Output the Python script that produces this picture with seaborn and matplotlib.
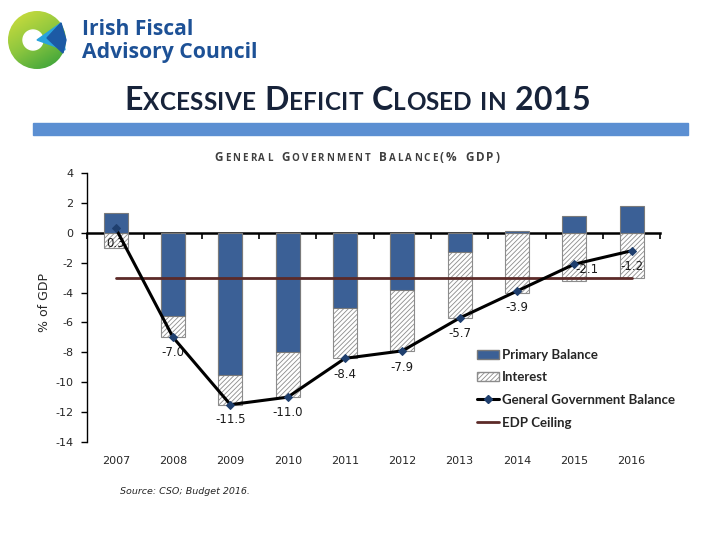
import numpy as np
import pandas as pd
import matplotlib
matplotlib.use("Agg")
import matplotlib.pyplot as plt
import seaborn as sns
from matplotlib.patches import Patch, Circle, Polygon, Rectangle
from matplotlib.lines import Line2D

# values (% of GDP)
years = ["2007", "2008", "2009", "2010", "2011", "2012", "2013", "2014", "2015", "2016"]
primary_balance = [1.3, -5.6, -9.5, -8.0, -5.0, -3.8, -1.3, 0.1, 1.1, 1.8]
interest = [-1.0, -1.4, -2.0, -3.0, -3.4, -4.1, -4.4, -4.0, -3.2, -3.0]
gg_balance = [0.3, -7.0, -11.5, -11.0, -8.4, -7.9, -5.7, -3.9, -2.1, -1.2]
edp_ceiling = [-3.0] * 10
y_ticks = [4, 2, 0, -2, -4, -6, -8, -10, -12, -14]

sns.set_theme(style="white")
plt.rcParams["font.family"] = ["DejaVu Sans"]
plt.rcParams["axes.unicode_minus"] = False
plt.rcParams["hatch.linewidth"] = 0.6

df = pd.DataFrame({"year": years, "pb": primary_balance, "int": interest, "ggb": gg_balance})
# interest is stacked under the primary balance when that one is negative
df["int_low"] = df["int"] + df["pb"].clip(upper=0)

fig = plt.figure(figsize=(7.2, 5.4), dpi=100)

# ---- decoration layer in pixel coordinates (logo, title, band)
deco = fig.add_axes([0, 0, 1, 1], zorder=-1)
deco.set_xlim(0, 720)
deco.set_ylim(540, 0)
deco.axis("off")

# logo: green ring with a blue wedge
ring = Circle((37, 40), 29, transform=deco.transData)
grad = np.add.outer(np.linspace(0, 1, 60), np.linspace(0, 0.6, 60))
green = matplotlib.colors.LinearSegmentedColormap.from_list("g", ["#d3df3c", "#8cc63f", "#2f9e3a"])
im = deco.imshow(grad, extent=(8, 66, 69, 11), cmap=green, aspect="auto", zorder=1)
im.set_clip_path(ring)
deco.add_patch(Circle((33, 40), 10, color="white", zorder=2))
deco.add_patch(Polygon([(37, 40), (61, 23), (65, 50)], closed=True, color="#29a3dd", zorder=3))
deco.add_patch(Polygon([(47, 38), (61, 23), (66, 40), (63, 53)], closed=True, color="#1c5aa5", zorder=3))
deco.text(82, 35, "Irish Fiscal", fontsize=15.2, fontweight="bold", color="#1d5196",
          family="Open Sans", va="baseline")
deco.text(82, 58, "Advisory Council", fontsize=15.2, fontweight="bold", color="#1d5196",
          family="Open Sans", va="baseline")

# blue band under the title
deco.add_patch(Rectangle((33, 123), 655, 12, color="#5b8fd2", zorder=1))

renderer = fig.canvas.get_renderer()


def small_caps(xc, yb, parts, big, small, gap, track=0.0, **kw):
    # lay out small-caps text piece by piece, one glyph at a time
    items = []
    for s, is_big in parts:
        if s == " ":
            items.append((None, gap))
            continue
        for ch in s:
            if ch == " ":
                items.append((None, gap))
                continue
            t = deco.text(0, yb, ch, fontsize=big if is_big else small, va="baseline", ha="left", **kw)
            items.append((t, t.get_window_extent(renderer).width + track))
    x = xc - (sum(w for _, w in items) - track) / 2
    for t, w in items:
        if t is not None:
            t.set_x(x)
        x += w


small_caps(357, 110,
           [("E", 1), ("XCESSIVE", 0), (" ", 0), ("D", 1), ("EFICIT", 0), (" ", 0),
            ("C", 1), ("LOSED", 0), (" ", 0), ("IN", 0), (" ", 0), ("2015", 1)],
           23, 17.5, 8, track=0.3, fontweight="bold", color="#17233a", family="Lato")
small_caps(357, 161,
           [("G", 1), ("ENERAL", 0), (" ", 0), ("G", 1), ("OVERNMENT", 0), (" ", 0),
            ("B", 1), ("ALANCE", 0), ("(%", 1), (" ", 0), ("GDP)", 1)],
           8.5, 7, 7, track=2.0, fontweight="bold", color="#404040", family="Open Sans")

# ---- chart
ax = fig.add_axes([0.121, 0.1815, 0.796, 0.498])
ax.patch.set_alpha(0)

sns.barplot(data=df, x="year", y="int_low", color="white", edgecolor="#8c8c8c",
            hatch="///////", width=0.42, linewidth=0.8, saturation=1, errorbar=None, ax=ax)
sns.barplot(data=df, x="year", y="pb", color="#3b6096", edgecolor="#7a7a7a",
            width=0.42, linewidth=0.8, saturation=1, errorbar=None, ax=ax)

pos = np.arange(len(years))
sns.lineplot(x=pos, y=edp_ceiling, color="#5c2a28", linewidth=2.0, zorder=3, ax=ax)
sns.lineplot(x=pos, y=gg_balance, color="black", linewidth=2.2, marker="D", markersize=4.5,
             markerfacecolor="#1f3f6e", markeredgecolor="#1f3f6e", zorder=4, ax=ax)

# data labels
offsets = [(0, -11), (0, -11), (0, -11), (0, -11), (0, -12),
           (0, -12), (0, -11), (0, -12), (9, -4), (0, -11)]
for i, v in enumerate(gg_balance):
    ax.annotate(f"{v:.1f}", (pos[i], v), xytext=offsets[i], textcoords="offset points",
                ha="center", va="center", fontsize=8.5, color="#1a1a1a")

ax.set_xlim(-0.5, 9.5)
ax.set_ylim(-14, 4)
ax.set_yticks(y_ticks)
ax.set_xlabel("")
ax.set_ylabel("% of GDP", fontsize=9, color="#262626")
ax.yaxis.set_label_coords(-0.063, 0.517)
for s in ["top", "right", "bottom"]:
    ax.spines[s].set_visible(False)
ax.spines["left"].set_color("black")
ax.spines["left"].set_linewidth(1)
ax.tick_params(axis="y", left=True, length=4, width=1, color="black", labelsize=8,
               labelcolor="#262626", pad=6)
ax.tick_params(axis="x", bottom=False, length=0, labelsize=8, labelcolor="#262626", pad=10)

# zero line with tick marks between the years
zero = ax.secondary_xaxis((0 - y_ticks[-1]) / (y_ticks[0] - y_ticks[-1]))
zero.set_xticks(np.arange(-0.5, len(years), 1))
zero.set_xticklabels([])
zero.tick_params(direction="in", length=4, width=1.2, color="black")
for sp in zero.spines.values():
    sp.set_linewidth(1.8)
    sp.set_color("black")

handles = [
    Patch(facecolor="#3b6096", edgecolor="#7a7a7a"),
    Patch(facecolor="white", edgecolor="#8c8c8c", hatch="///////"),
    Line2D([], [], color="black", linewidth=2.2, marker="D", markersize=4.5,
           markerfacecolor="#1f3f6e", markeredgecolor="#1f3f6e"),
    Line2D([], [], color="#5c2a28", linewidth=2.0),
]
labels = ["Primary Balance", "Interest", "General Government Balance", "EDP Ceiling"]
ax.legend(handles, labels, loc="upper left", bbox_to_anchor=(0.662, 0.354),
          bbox_transform=fig.transFigure, frameon=False, borderpad=0, borderaxespad=0,
          handlelength=1.7, handletextpad=0.25, labelspacing=0.8,
          prop={"family": "Lato", "weight": "bold", "size": 9.5})

fig.text(120 / 720, 1 - 492 / 540, "Source: CSO; Budget 2016.", fontsize=6.8,
         style="italic", color="#262626", va="center")

fig.savefig("out.png", dpi=100)
